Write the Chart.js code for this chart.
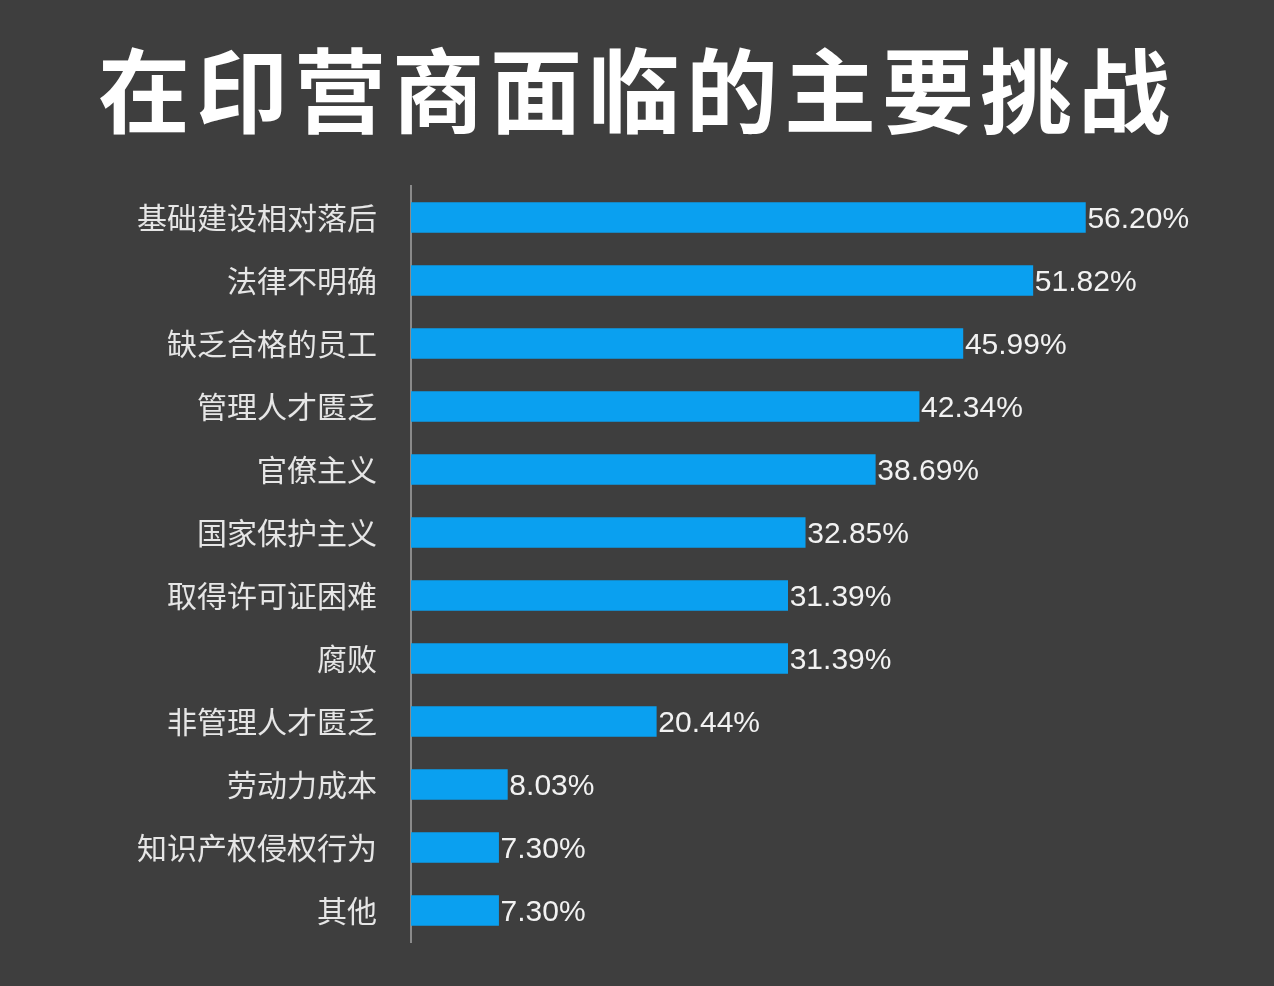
<!DOCTYPE html>
<html><head><meta charset="utf-8">
<script src="https://cdn.jsdelivr.net/npm/chart.js@4/dist/chart.umd.min.js"></script>
<style>
html,body{margin:0;padding:0;background:#3e3e3e;width:1274px;height:986px;overflow:hidden;}
#t{position:absolute;left:0;top:26px;width:1274px;text-align:center;color:#fff;font:bold 92px "Noto Sans CJK SC";letter-spacing:6px;line-height:120px;}
#c{position:absolute;left:0;top:0;}
</style></head><body>
<canvas id="c" width="1274" height="986"></canvas>
<div id="t">在印营商面临的主要挑战</div>
<script>
const categories=["基础建设相对落后","法律不明确","缺乏合格的员工","管理人才匮乏","官僚主义","国家保护主义","取得许可证困难","腐败","非管理人才匮乏","劳动力成本","知识产权侵权行为","其他"];
const values=[56.20,51.82,45.99,42.34,38.69,32.85,31.39,31.39,20.44,8.03,7.30,7.30];
const valueLabels={id:'vl',afterDatasetsDraw(ch){const ctx=ch.ctx;const m=ch.getDatasetMeta(0);ctx.save();ctx.fillStyle='#f2f2f2';ctx.font='30px "Liberation Sans", Arial';ctx.textBaseline='middle';m.data.forEach((b,i)=>{ctx.fillText(values[i].toFixed(2)+'%',b.x+2,b.y+2);});ctx.restore();}};
new Chart(document.getElementById('c'),{type:'bar',
data:{labels:categories,datasets:[{data:values,backgroundColor:'#0aa0f0',barThickness:30}]},
options:{indexAxis:'y',responsive:false,animation:false,devicePixelRatio:1,
layout:{padding:{top:186,bottom:32,right:23,left:0}},
plugins:{legend:{display:false},tooltip:{enabled:false}},
scales:{x:{display:false,min:0,max:70},
y:{afterFit(s){s.width=411;},grid:{display:false,drawOnChartArea:false},border:{display:true,color:'#8a8a8a',width:2},
ticks:{color:'#e6e6e6',padding:26,font:{size:30,family:'"Noto Sans CJK SC"'}}}}},
plugins:[valueLabels]});
</script></body></html>
